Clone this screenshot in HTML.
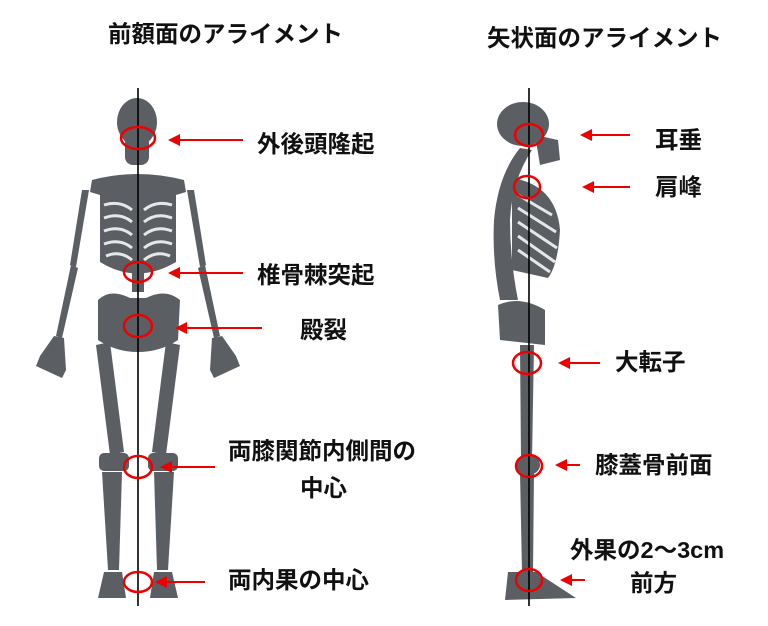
<!DOCTYPE html>
<html><head><meta charset="utf-8"><style>
html,body{margin:0;padding:0;background:#fff;}
svg{display:block}
text{font-family:"Liberation Sans","Noto Sans CJK JP",sans-serif;font-weight:bold;font-size:23.5px;fill:#111;}
</style></head><body>
<svg width="768" height="626" viewBox="0 0 768 626" xmlns="http://www.w3.org/2000/svg">
<defs>
<marker id="ah" markerWidth="12" markerHeight="12" refX="2" refY="6" orient="auto" markerUnits="userSpaceOnUse" viewBox="0 0 12 12">
<path d="M0,0 L12,6 L0,12 z" fill="#e00"/></marker>
</defs>
<text x="108" y="42">前額面のアライメント</text>
<text x="487" y="46">矢状面のアライメント</text>

<!-- front skeleton -->
<g fill="#5b5f64">
<ellipse cx="137" cy="122" rx="20" ry="24"/>
<rect x="125" y="135" width="24" height="30" rx="8"/>
<path d="M92,180 Q137,168 184,180 L186,192 L176,195 L176,262 Q137,285 100,262 L100,195 L90,192 Z"/>
<path d="M89,190 L82,190 L70,265 L76,267 Z"/><path d="M71,265 L78,268 L62,338 L56,336 Z"/>
<path d="M54,336 L64,338 L66,370 L62,378 L36,366 L40,356 Z"/>
<path d="M187,190 L194,190 L206,265 L200,267 Z"/><path d="M205,265 L198,268 L214,338 L220,336 Z"/>
<path d="M222,336 L212,338 L210,370 L214,378 L240,366 L236,356 Z"/>
<rect x="132" y="262" width="12" height="30"/>
<path d="M98,300 Q110,288 130,298 L146,298 Q166,288 180,300 L178,340 Q160,352 138,352 Q116,352 98,340 Z"/>
<path d="M96,345 L110,342 L124,452 L110,455 Z"/><path d="M180,345 L166,342 L152,452 L166,455 Z"/>
<rect x="99" y="453" width="30" height="18" rx="5"/><rect x="148" y="453" width="30" height="18" rx="5"/>
<path d="M102,472 L122,472 L119,570 L108,570 Z"/><path d="M154,472 L174,472 L168,570 L157,570 Z"/>
<path d="M104,572 L122,572 L126,598 L98,598 Z"/><path d="M154,572 L172,572 L178,598 L150,598 Z"/>
</g>
<g stroke="#fff" stroke-width="3" fill="none" opacity="0.85">
<path d="M104,205 Q120,200 132,210 M104,218 Q120,212 132,222 M104,231 Q120,225 132,235 M104,244 Q120,238 132,248 M106,256 Q120,250 132,260"/>
<path d="M172,205 Q156,200 144,210 M172,218 Q156,212 144,222 M172,231 Q156,225 144,235 M172,244 Q156,238 144,248 M170,256 Q156,250 144,260"/>
</g>
<line x1="138" y1="88" x2="138" y2="606" stroke="#000" stroke-width="1.6"/>

<!-- side skeleton -->
<g fill="#5b5f64">
<ellipse cx="523" cy="124" rx="26" ry="22"/>
<path d="M535,135 L558,140 L560,160 L540,165 Z"/>
<path d="M520,148 L532,150 Q512,180 510,220 Q510,260 518,300 L500,300 Q492,260 494,220 Q498,175 520,148 Z"/>
<path d="M512,178 Q556,185 560,230 Q558,265 548,278 L512,270 Z"/>
<path d="M498,305 Q520,295 545,310 L545,345 L500,340 Z"/>
<path d="M520,345 L534,345 L532,460 L521,460 Z"/>
<ellipse cx="528" cy="465" rx="12" ry="10"/>
<path d="M520,472 L534,472 L533,572 L522,572 Z"/>
<path d="M508,572 L536,572 L576,598 L505,600 Z"/>
</g>
<g stroke="#fff" stroke-width="3" fill="none" opacity="0.85">
<path d="M518,195 L552,215 M518,208 L556,232 M518,222 L557,248 M518,236 L555,262 M518,250 L550,272"/>
</g>
<line x1="529" y1="88" x2="529" y2="606" stroke="#000" stroke-width="1.6"/>

<!-- circles -->
<g fill="none" stroke="#e00" stroke-width="2.5">
<ellipse cx="138" cy="138" rx="17" ry="11"/>
<ellipse cx="138" cy="272" rx="14" ry="10"/>
<ellipse cx="138" cy="326" rx="14" ry="11"/>
<ellipse cx="138" cy="467" rx="14" ry="11"/>
<ellipse cx="138" cy="582" rx="14" ry="10"/>
<ellipse cx="529" cy="135" rx="14" ry="11"/>
<ellipse cx="527" cy="187" rx="13" ry="11"/>
<ellipse cx="527" cy="363" rx="14" ry="11"/>
<ellipse cx="529" cy="466" rx="13" ry="11"/>
<ellipse cx="529" cy="580" rx="13" ry="11"/>
</g>
<!-- arrows -->
<g stroke="#e00" stroke-width="2" marker-end="url(#ah)">
<line x1="243" y1="140" x2="178" y2="140"/>
<line x1="243" y1="273" x2="178" y2="273"/>
<line x1="262" y1="328" x2="185" y2="328"/>
<line x1="215" y1="467" x2="170" y2="467"/>
<line x1="205" y1="582" x2="165" y2="582"/>
<line x1="630" y1="135" x2="590" y2="135"/>
<line x1="630" y1="187" x2="592" y2="187"/>
<line x1="600" y1="363" x2="568" y2="363"/>
<line x1="580" y1="465" x2="565" y2="465"/>
<line x1="585" y1="580" x2="570" y2="580"/>
</g>
<text x="257" y="152">外後頭隆起</text>
<text x="257" y="283">椎骨棘突起</text>
<text x="300" y="338">殿裂</text>
<text x="228" y="459">両膝関節内側間の</text>
<text x="300" y="496">中心</text>
<text x="228" y="588">両内果の中心</text>
<text x="655" y="148">耳垂</text>
<text x="655" y="195">肩峰</text>
<text x="615" y="370">大転子</text>
<text x="595" y="473">膝蓋骨前面</text>
<text x="570" y="558">外果の2〜3cm</text>
<text x="630" y="591">前方</text>
</svg>
</body></html>
